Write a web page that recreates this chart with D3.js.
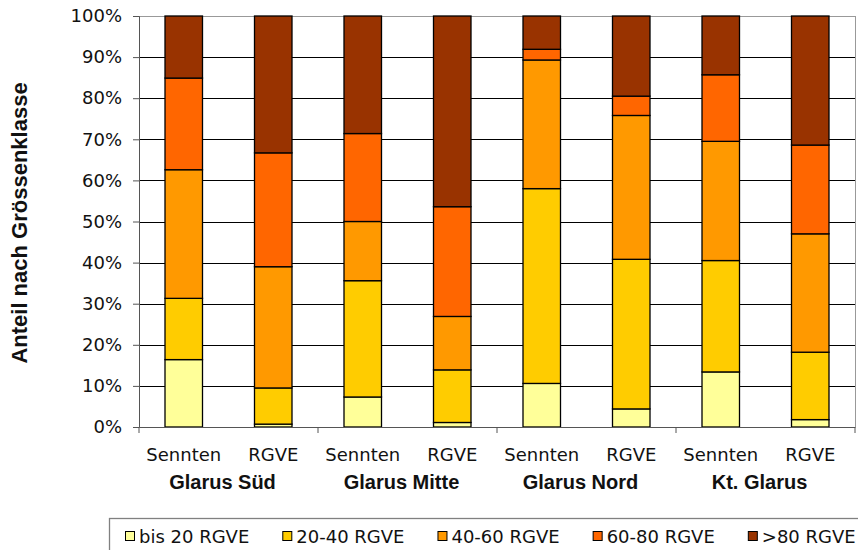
<!DOCTYPE html>
<html><head><meta charset="utf-8">
<script src="https://cdn.jsdelivr.net/npm/d3@7"></script>
<style>body{margin:0;background:#fff}svg{display:block}</style>
</head><body>
<svg id="c" width="858" height="550"></svg>
<script>
const groups = ["Glarus Süd", "Glarus Mitte", "Glarus Nord", "Kt. Glarus"];
const subCategories = ["Sennten", "RGVE"];
const seriesNames = ["bis 20 RGVE", "20-40 RGVE", "40-60 RGVE", "60-80 RGVE", ">80 RGVE"];
const seriesColors = ["#FFFF99", "#FFCC00", "#FF9900", "#FF6600", "#993300"];
const bis20 = [16.4, 0.7, 7.3, 1.1, 10.6, 4.4, 13.4, 1.8];
const r20_40 = [14.9, 8.8, 28.3, 12.8, 47.4, 36.4, 27.1, 16.4];
const r40_60 = [31.3, 29.5, 14.4, 13.0, 31.3, 35.0, 29.0, 28.8];
const r60_80 = [22.3, 27.7, 21.4, 26.7, 2.6, 4.7, 16.2, 21.6];
const over80 = [15.1, 33.3, 28.6, 46.4, 8.1, 19.5, 14.3, 31.4];
const yTicks = [0, 10, 20, 30, 40, 50, 60, 70, 80, 90, 100];

const seriesValues = [bis20, r20_40, r40_60, r60_80, over80];
const bars = [];
groups.forEach((g, gi) => subCategories.forEach((s, si) => bars.push({id: gi * 2 + si, group: g, sub: s})));
const table = bars.map(b => {
  const o = {id: b.id};
  seriesNames.forEach((n, i) => o[n] = seriesValues[i][b.id]);
  return o;
});

const svg = d3.select("#c");
const L = 139, R = 855, T = 16, B = 427;
const font = "'DejaVu Sans', Verdana, sans-serif";

const x = d3.scaleBand().domain(bars.map(b => b.id)).range([L, R]).paddingInner(0.581).paddingOuter(0.2905);
const y = d3.scaleLinear().domain([0, 100]).range([B, T]);
const xg = d3.scaleBand().domain(groups).range([L, R]);

// gridlines
svg.append("g").selectAll("line").data(yTicks.filter(t => t > 0)).join("line")
  .attr("x1", L).attr("x2", R)
  .attr("y1", d => Math.round(y(d)) + 0.5).attr("y2", d => Math.round(y(d)) + 0.5)
  .attr("stroke", d => d === 100 ? "#999" : "#000").attr("stroke-width", 1);
// right border
svg.append("line").attr("x1", R + 0.5).attr("x2", R + 0.5).attr("y1", T).attr("y2", B)
  .attr("stroke", "#999");

// stacked bars
const stack = d3.stack().keys(seriesNames)(table);
svg.append("g").selectAll("g").data(stack).join("g")
  .attr("fill", (d, i) => seriesColors[i])
  .selectAll("rect").data(d => d).join("rect")
  .attr("x", d => x(d.data.id))
  .attr("width", x.bandwidth())
  .attr("y", d => y(d[1]))
  .attr("height", d => y(d[0]) - y(d[1]))
  .attr("stroke", "#000").attr("stroke-width", 1.3);

// y axis
const yAxis = svg.append("g").attr("transform", `translate(${L},0)`)
  .call(d3.axisLeft(y).tickValues(yTicks).tickFormat(d => d + "%").tickSize(6).tickPadding(11));
yAxis.select(".domain").attr("stroke", "#555");
yAxis.selectAll(".tick line").attr("stroke", "#555");
yAxis.selectAll("text").attr("font-family", font).attr("font-size", 18).attr("fill", "#111");

// x axis line + group ticks
const xAxis = svg.append("g").attr("transform", `translate(0,${B})`)
  .call(d3.axisBottom(xg).tickValues([]).tickSizeOuter(0));
xAxis.select(".domain").attr("stroke", "#555");
svg.append("g").selectAll("line").data(groups.concat(["end"])).join("line")
  .attr("x1", (d, i) => L + i * xg.step()).attr("x2", (d, i) => L + i * xg.step())
  .attr("y1", B).attr("y2", B + 6).attr("stroke", "#555");

// sub-category labels
svg.append("g").selectAll("text").data(bars).join("text")
  .attr("x", d => x(d.id) + x.bandwidth() / 2).attr("y", 461)
  .attr("text-anchor", "middle").attr("font-family", font).attr("font-size", 18).attr("fill", "#111")
  .text(d => d.sub);

// group labels
svg.append("g").selectAll("text").data(groups).join("text")
  .attr("x", d => xg(d) + xg.bandwidth() / 2 - 6).attr("y", 489)
  .attr("text-anchor", "middle").attr("font-family", "'Liberation Sans', Arial, sans-serif")
  .attr("font-weight", "bold").attr("font-size", 20).attr("fill", "#111")
  .text(d => d);

// y title
svg.append("text").attr("transform", "translate(27,223) rotate(-90)")
  .attr("text-anchor", "middle").attr("font-family", "'Liberation Sans', Arial, sans-serif")
  .attr("font-weight", "bold").attr("font-size", 22).attr("fill", "#111")
  .text("Anteil nach Grössenklasse");

// legend
svg.append("rect").attr("x", 109.5).attr("y", 518.5).attr("width", 760).attr("height", 60)
  .attr("fill", "#fff").attr("stroke", "#808080").attr("stroke-width", 1.3);
const lg = svg.append("g");
let lx = 125;
seriesNames.forEach((n, i) => {
  const it = lg.append("g").attr("transform", `translate(${lx},0)`);
  it.append("rect").attr("x", 0.5).attr("y", 531.5).attr("width", 9).attr("height", 9)
    .attr("fill", seriesColors[i]).attr("stroke", "#000").attr("stroke-width", 1);
  const t = it.append("text").attr("x", 14).attr("y", 542.5)
    .attr("font-family", font).attr("font-size", 18).attr("fill", "#111").text(n);
  lx += 14 + t.node().getComputedTextLength() + 33;
});
</script>
</body></html>
